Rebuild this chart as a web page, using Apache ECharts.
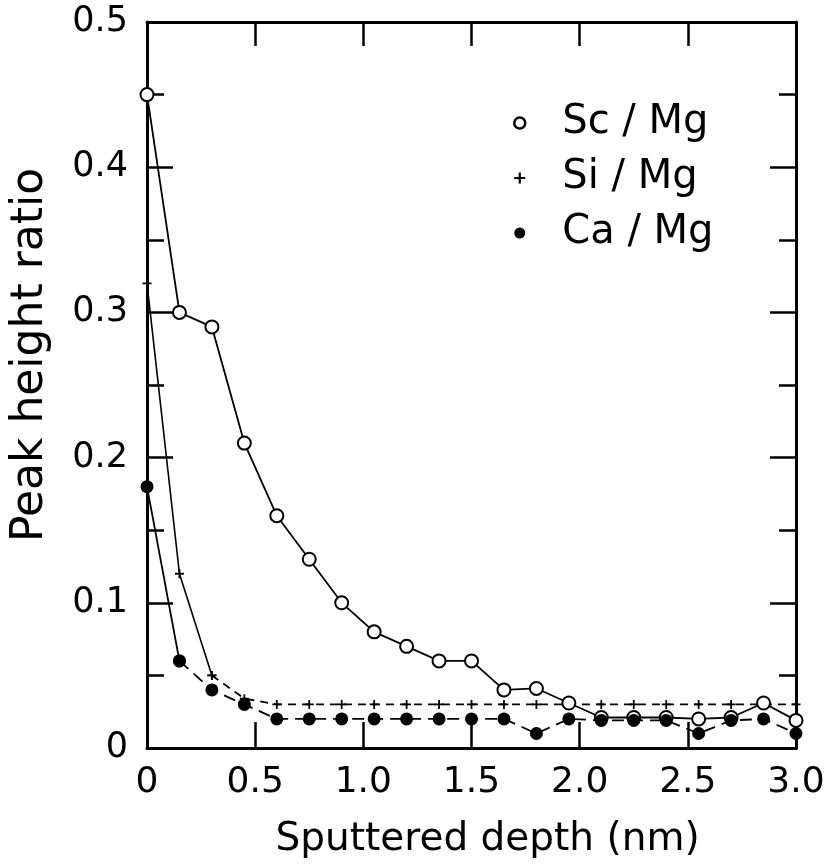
<!DOCTYPE html>
<html>
<head>
<meta charset="utf-8">
<script src="https://cdn.jsdelivr.net/npm/echarts@6/dist/echarts.min.js"></script>
<style>
  html, body { margin: 0; padding: 0; background: #fff; }
  #main { width: 830px; height: 865px; }
</style>
</head>
<body>
<div id="main"></div>
<script>
// depth values (nm) and peak height ratios
var depth = [0, 0.15, 0.3, 0.45, 0.6, 0.75, 0.9, 1.05, 1.2, 1.35, 1.5, 1.65, 1.8, 1.95, 2.1, 2.25, 2.4, 2.55, 2.7, 2.85, 3.0];
var scMg = [0.45, 0.30, 0.29, 0.21, 0.16, 0.13, 0.10, 0.08, 0.07, 0.06, 0.06, 0.04, 0.041, 0.031, 0.021, 0.021, 0.021, 0.02, 0.021, 0.031, 0.019];
var siMg = [0.32, 0.12, 0.05, 0.034, 0.03, 0.03, 0.03, 0.03, 0.03, 0.03, 0.03, 0.03, 0.03, 0.03, 0.03, 0.03, 0.03, 0.03, 0.03, 0.03, 0.03];
var caMg = [0.18, 0.06, 0.04, 0.03, 0.02, 0.02, 0.02, 0.02, 0.02, 0.02, 0.02, 0.02, 0.01, 0.02, 0.019, 0.019, 0.019, 0.01, 0.019, 0.02, 0.01];
var xTicks = ['0', '0.5', '1.0', '1.5', '2.0', '2.5', '3.0'];
var yTicks = ['0', '0.1', '0.2', '0.3', '0.4', '0.5'];

var FONT = 'DejaVu Sans';
var PLUS = 'path://M4,0 L6,0 L6,4 L10,4 L10,6 L6,6 L6,10 L4,10 L4,6 L0,6 L0,4 L4,4 Z';

function pairs(vals, from, to) {
  var out = [];
  for (var i = from; i < to; i++) out.push([depth[i], vals[i]]);
  return out;
}

var myChart = echarts.init(document.getElementById('main'));

// frame lines, kept off the zero line so top/right axes stay on the box
var axisLine = { show: true, onZero: false, lineStyle: { color: '#000', width: 3 } };
var tickStyle = { color: '#000', width: 2.5 };

var option = {
  animation: false,
  backgroundColor: '#fff',
  grid: { left: 147, right: 34, top: 22, bottom: 117 },
  legend: {
    orient: 'vertical',
    left: 508,
    top: 98,
    itemWidth: 11,
    itemHeight: 11,
    itemGap: 15,
    selectedMode: false,
    textStyle: { fontFamily: FONT, fontSize: 40, color: '#000', lineHeight: 40, padding: [0, 0, 0, 32] },
    data: [
      { name: 'Sc / Mg', icon: 'circle', itemStyle: { color: '#fff', borderColor: '#000', borderWidth: 2.5 } },
      { name: 'Si / Mg', icon: PLUS, itemStyle: { color: '#000', borderWidth: 0 } },
      { name: 'Ca / Mg', icon: 'circle', itemStyle: { color: '#000', borderWidth: 0 } }
    ]
  },
  xAxis: [
    {
      type: 'value', position: 'bottom', min: 0, max: 3, interval: 0.5,
      axisLine: axisLine,
      axisTick: { show: true, inside: true, length: 26, lineStyle: tickStyle },
      splitLine: { show: false },
      axisLabel: {
        margin: 17, fontFamily: FONT, fontSize: 36, color: '#000',
        formatter: function (v) { return xTicks[Math.round(v / 0.5)]; }
      },
      name: 'Sputtered depth (nm)',
      nameLocation: 'middle',
      nameGap: 72,
      nameTextStyle: { fontFamily: FONT, fontSize: 39, color: '#000', padding: [0, 0, 0, 32] }
    },
    {
      type: 'value', position: 'top', min: 0, max: 3, interval: 0.5,
      axisLine: axisLine,
      axisTick: { show: true, inside: true, length: 24, lineStyle: tickStyle },
      splitLine: { show: false },
      axisLabel: { show: false }
    }
  ],
  yAxis: [
    {
      type: 'value', position: 'left', min: 0, max: 0.5, interval: 0.1,
      axisLine: axisLine,
      axisTick: { show: true, inside: true, length: 26, lineStyle: tickStyle },
      minorTick: { show: true, splitNumber: 2, length: 17, lineStyle: tickStyle },
      splitLine: { show: false },
      axisLabel: {
        margin: 19, fontFamily: FONT, fontSize: 35, color: '#000',
        formatter: function (v) { return yTicks[Math.round(v / 0.1)]; }
      },
      name: 'Peak height ratio',
      nameLocation: 'middle',
      nameGap: 94,
      nameRotate: 90,
      nameTextStyle: { fontFamily: FONT, fontSize: 44, color: '#000', padding: [0, 0, 0, 60] }
    },
    {
      type: 'value', position: 'right', min: 0, max: 0.5, interval: 0.1,
      axisLine: axisLine,
      axisTick: { show: true, inside: true, length: 26, lineStyle: tickStyle },
      minorTick: { show: true, splitNumber: 2, length: 17, lineStyle: tickStyle },
      splitLine: { show: false },
      axisLabel: { show: false }
    }
  ],
  series: [
    {
      name: 'Si / Mg', type: 'line', data: pairs(siMg, 0, 3),
      symbol: PLUS, symbolSize: 9,
      itemStyle: { color: '#000' },
      lineStyle: { color: '#000', width: 1.6 }, z: 2
    },
    {
      name: 'Si / Mg', type: 'line', data: pairs(siMg, 2, depth.length),
      symbol: PLUS, symbolSize: 9,
      itemStyle: { color: '#000' },
      lineStyle: { color: '#000', width: 1.8, type: [8, 6] }, z: 2
    },
    {
      name: 'Sc / Mg', type: 'line', data: pairs(scMg, 0, depth.length),
      symbol: 'circle', symbolSize: 13,
      itemStyle: { color: '#fff', borderColor: '#000', borderWidth: 2 },
      lineStyle: { color: '#000', width: 1.8 }, z: 3
    },
    {
      name: 'Ca / Mg', type: 'line', data: pairs(caMg, 0, 2),
      symbol: 'circle', symbolSize: 13,
      itemStyle: { color: '#000' },
      lineStyle: { color: '#000', width: 1.8 }, z: 4
    },
    {
      name: 'Ca / Mg', type: 'line', data: pairs(caMg, 1, depth.length),
      symbol: 'circle', symbolSize: 13,
      itemStyle: { color: '#000' },
      lineStyle: { color: '#000', width: 1.8, type: [12, 7] }, z: 4
    }
  ]
};

myChart.setOption(option);
</script>
</body>
</html>
